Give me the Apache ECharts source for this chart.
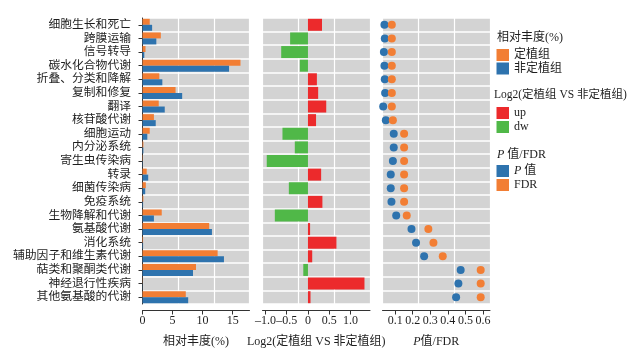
<!DOCTYPE html>
<html><head><meta charset="utf-8">
<script src="https://cdn.jsdelivr.net/npm/echarts@6/dist/echarts.min.js"></script>
<style>html,body{margin:0;padding:0;background:#fff}#c{width:636px;height:356px}</style>
</head><body><div id="c"></div>
<script>
const categories = ['细胞生长和死亡','跨膜运输','信号转导','碳水化合物代谢','折叠、分类和降解','复制和修复','翻译','核苷酸代谢','细胞运动','内分泌系统','寄生虫传染病','转录','细菌传染病','免疫系统','生物降解和代谢','氨基酸代谢','消化系统','辅助因子和维生素代谢','萜类和聚酮类代谢','神经退行性疾病','其他氨基酸的代谢'];
const abundColonized = [1.2,3.05,0.5,16.3,2.8,5.5,2.7,1.9,1.2,0.15,0.05,0.7,0.55,0.15,3.2,11.1,0.1,12.5,8.9,0.03,7.2];
const abundNonColonized = [1.6,2.3,0.3,14.4,3.3,6.6,3.7,2.2,0.8,0.15,0.05,0.95,0.45,0.1,1.9,11.55,0.1,13.55,8.4,0.03,7.6];
const log2fc = [0.33,-0.42,-0.63,-0.19,0.21,0.24,0.43,0.19,-0.6,-0.31,-0.97,0.31,-0.45,0.34,-0.78,0.05,0.67,0.1,-0.11,1.33,0.06];
const pValues = [0.039,0.041,0.036,0.039,0.041,0.043,0.032,0.047,0.092,0.092,0.087,0.075,0.075,0.079,0.106,0.193,0.219,0.265,0.473,0.46,0.447];
const fdrValues = [0.081,0.081,0.081,0.081,0.081,0.081,0.081,0.087,0.151,0.151,0.151,0.151,0.151,0.151,0.166,0.289,0.318,0.371,0.587,0.587,0.587];
const abundTicks = [0,5,10,15];
const log2Ticks = [-1,-0.5,0,0.5,1];
const pTicks = [0.1,0.2,0.3,0.4,0.5,0.6];

const FONT = "'Liberation Serif','Noto Sans CJK SC',serif";
const TXT = '#1e1e1e';
const C_OR = '#F27E34', C_BL = '#2E73AE', C_UP = '#EC2A2C', C_DW = '#50B848';
const GRAY = '#d3d3d3';

const chart = echarts.init(document.getElementById('c'), null, {renderer:'canvas'});
const gridsDef = [[142.5,107],[262.5,107.5],[382.5,107.5]];
const grids = gridsDef.map(g => ({left:g[0], top:18, width:g[1], height:286, show:true, backgroundColor:GRAY, borderWidth:0, containLabel:false}));

function mainX(i, min, max, ticks, name, fmt) {
  return {
    type:'value', gridIndex:i, min:min, max:max, position:'bottom', offset:6.5,
    axisLine:{show:true, lineStyle:{color:'#333', width:1}},
    axisTick:{show:true, length:4, lineStyle:{color:'#333'}, customValues:ticks},
    axisLabel:{customValues:ticks, color:TXT, fontFamily:FONT, fontSize:12, margin:4, formatter:fmt},
    splitLine:{show:false},
    name:name, nameLocation:'middle', nameGap:25,
    nameTextStyle:{color:TXT, fontFamily:FONT, fontSize:12, rich:{i:{fontStyle:'italic', fontFamily:FONT, fontSize:12, color:TXT}}}
  };
}
function thirdX(i) {
  return {type:'value', gridIndex:i, min:0, max:3, interval:1, position:'top',
    axisLine:{show:false}, axisTick:{show:false}, axisLabel:{show:false},
    splitLine:{show:true, lineStyle:{color:'#ffffff', width:1.2}}};
}
function yAx(i, main) {
  return {
    type:'category', gridIndex:i, data:categories, inverse:true,
    offset: main ? 6.5 : 0,
    axisLine:{show:main, lineStyle:{color:'#333'}},
    axisTick:{show:main, alignWithLabel:true, interval:0, length:4, lineStyle:{color:'#333'}},
    axisLabel:{show:main, interval:0, color:TXT, fontFamily:FONT, fontSize:11.8, margin:5},
    splitLine:{show:true, interval:0, lineStyle:{color:'#ffffff', width:1.6}}
  };
}

const option = {
  animation:false,
  backgroundColor:'#fff',
  textStyle:{fontFamily:FONT},
  grid:grids,
  xAxis:[
    mainX(0, 0, 17.8, abundTicks, '相对丰度(%)', v => String(v)),
    mainX(1, -1.07, 1.46, log2Ticks, 'Log2(定植组 VS 非定植组)', v => v === 0 ? '0' : (v < 0 ? '–' : '') + Math.abs(v).toFixed(1)),
    mainX(2, 0.028, 0.64, pTicks, '{i|P}值/FDR', v => v.toFixed(1)),
    thirdX(0), thirdX(1), thirdX(2)
  ],
  yAxis:[yAx(0,true), yAx(1,false), yAx(2,false)],
  legend:[
    {data:['定植组','非定植组'], orient:'vertical', left:496.5, top:49, padding:0, itemWidth:12.5, itemHeight:12, itemGap:1.5, icon:'rect',
      textStyle:{color:TXT, fontFamily:FONT, fontSize:12, lineHeight:12}},
    {data:['up','dw'], orient:'vertical', left:496.5, top:107, padding:0, itemWidth:12.5, itemHeight:12, itemGap:2, icon:'rect',
      textStyle:{color:TXT, fontFamily:FONT, fontSize:12, lineHeight:12}},
    {data:['P 值','FDR'], orient:'vertical', left:496.5, top:165, padding:0, itemWidth:12.5, itemHeight:12, itemGap:2, icon:'rect',
      formatter: n => n === 'P 值' ? '{i|P} 值' : n,
      textStyle:{color:TXT, fontFamily:FONT, fontSize:12, lineHeight:12, rich:{i:{fontStyle:'italic', fontFamily:FONT, fontSize:12, color:TXT}}}}
  ],
  graphic:[
    {type:'text', left:497, top:31.5, style:{text:'相对丰度(%)', fill:TXT, font:"12px " + FONT}},
    {type:'text', left:494, top:89, style:{text:'Log2(定植组 VS 非定植组)', fill:TXT, font:"11.5px " + FONT}},
    {type:'text', left:497, top:148.5, style:{text:'{i|P} 值/FDR', fill:TXT, font:"12px " + FONT,
      rich:{i:{fontStyle:'italic', fontFamily:FONT, fontSize:12, fill:TXT}}}}
  ],
  series:[
    {type:'bar', name:'定植组', xAxisIndex:0, yAxisIndex:0, data:abundColonized, barWidth:6, barGap:'0%', itemStyle:{color:C_OR}},
    {type:'bar', name:'非定植组', xAxisIndex:0, yAxisIndex:0, data:abundNonColonized, barWidth:6, barGap:'0%', itemStyle:{color:C_BL}},
    {type:'bar', name:'up', xAxisIndex:1, yAxisIndex:1, data:log2fc.map(v => v > 0 ? v : '-'), barWidth:12, barGap:'-100%', itemStyle:{color:C_UP}},
    {type:'bar', name:'dw', xAxisIndex:1, yAxisIndex:1, data:log2fc.map(v => v < 0 ? v : '-'), barWidth:12, barGap:'-100%', itemStyle:{color:C_DW}},
    {type:'scatter', name:'P 值', xAxisIndex:2, yAxisIndex:2, data:pValues.map((v,i) => [v, categories[i]]), symbolSize:8, itemStyle:{color:C_BL, opacity:1}},
    {type:'scatter', name:'FDR', xAxisIndex:2, yAxisIndex:2, data:fdrValues.map((v,i) => [v, categories[i]]), symbolSize:8, itemStyle:{color:C_OR, opacity:1}}
  ]
};
chart.setOption(option);
</script>
</body></html>
